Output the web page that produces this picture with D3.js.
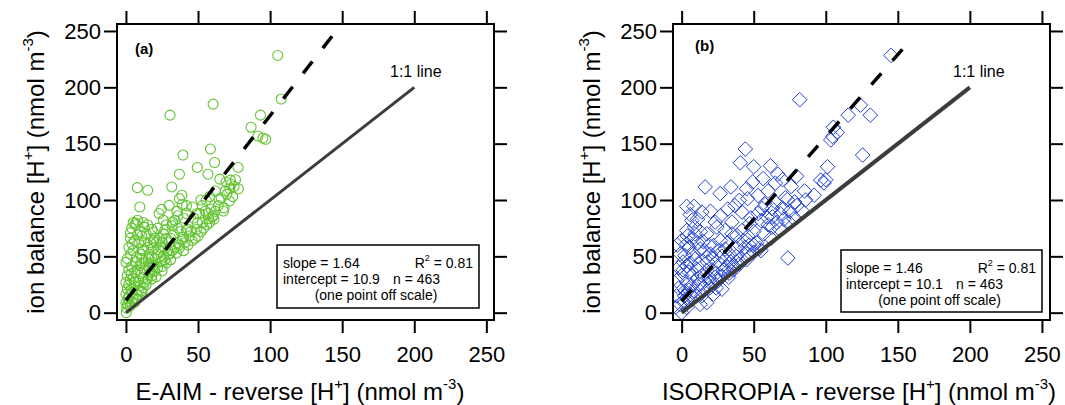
<!DOCTYPE html>
<html>
<head>
<meta charset="utf-8">
<script src="https://d3js.org/d3.v7.min.js"></script>
<style>
  body { margin: 0; background: #fff; }
  svg text { font-family: "Liberation Sans", Arial, sans-serif; fill: #000; }
  .axis .domain { display: none; }
  .axis line { stroke: #000; stroke-width: 2; }
  .axis text { font-size: 22px; }
</style>
</head>
<body>
<svg id="chart" width="1065" height="405"></svg>
<script>
// tick values, shared by both panels
const tickValues = [0, 50, 100, 150, 200, 250];

// panel (a): ion balance vs E-AIM reverse, [x, y] in nmol m-3
const eaimPoints = [
  [105.3,228.3],[107.7,189.6],[60.5,185.1],[30.6,175.3],[93.3,175.3],[86.8,164.6],[91.6,156.8],[96.9,153.9],[95,155],
  [58.6,145.2],[39.5,139.9],[61.5,133.3],[49.5,128.9],[77.8,128.9],[37.1,122.9],[56.9,122.9],[65.1,118.5],[72.5,117.6],
  [69.4,116],[7.9,111],[15.1,108.6],[31.8,111.6],[38.8,104.2],[37.1,101.2],[9.6,93.8],[24.6,91.7],[29.9,95.2],[46.2,93.8],
  [55.7,99.7],[64.6,100.3],[71.8,99.1],[67.7,90.2],[35.4,89.9],[49,87.8],[57.4,83.3],[60.5,86.3],[32.3,80.4],[6.5,79.5],
  [12.7,75.9],[3.1,70.8],[19.1,71.4],[27,73.5],[41.9,72.9],[49.5,79.5],[39.5,67],[19.1,64],[4.3,61],[11.2,56.5],[22.7,55.7],
  [29.9,52.1],[37.1,57.4],[3.1,52],[7.2,49.1],[15.6,47.6],[0,44.6],[9.6,41.7],[17.9,43.2],[25.1,46.1],[3.6,34.2],[10.8,34.8],
  [17.9,29.8],[25.1,37.2],[0,26.8],[6,23.8],[0,16.4],[3.6,20.8],[10.8,19.3],[0,8.9],[0.2,0],
  [0.5,4],[1,7],[2,10],[1.5,13],[3,6],[2.5,15],[4,9],[1,21],[2,25],[4,18],[5,12],[6,9],[7,13],[3,29],[1,33],[2,38],[5,30],
  [6,27],[8,16],[9,20],[4,41],[6,36],[7,45],[1,48],[5,55],[8,38],[9,28],[10,24],[2,58],[6,64],[8,69],[4,75],[7,78],[9,62],
  [10,52],[11,44],[3,66],[5,80],[8,82],[10,72],
  [11,18],[12,22],[13,27],[12,31],[14,25],[15,30],[16,34],[13,38],[11,48],[14,45],[16,40],[17,36],[18,33],[12,55],[15,58],
  [13,63],[16,52],[18,49],[19,42],[20,37],[11,68],[14,70],[17,62],[19,57],[20,48],[12,80],[15,78],[18,74],[20,66],
  [21,32],[22,40],[24,45],[25,41],[26,50],[22,52],[24,58],[27,47],[28,44],[21,62],[23,66],[25,63],[27,57],
  [29,55],[30,52],[22,75],[26,70],[28,66],[30,62],[23,88],[26,82],[28,78],
  [31,47],[32,55],[34,58],[35,53],[36,62],[31,66],[33,70],[37,60],[39,65],[40,55],[32,77],[34,82],
  [36,75],[38,72],[41,62],[43,60],[44,68],[36,86],[40,84],[42,88],[43,74],[45,72],
  [39,96],[42,95],
  [46,64],[48,66],[49,74],[50,68],[52,72],[53,80],[54,75],[56,78],[57,88],[47,84],[51,88],
  [53,95],[55,90],[58,80],[59,92],[60,85],[52,100],[58,103],
  [61,83],[62,90],[64,95],[66,102],[68,93],[70,105],[72,110],[74,103],[75,112],[62,108],
  [69,108],[73,114],[76,118],[78,110]
];

// panel (b): ion balance vs ISORROPIA reverse
const isoPoints = [
  [145.3,228.3],[81.9,189],[124,184.2],[130.9,175.3],[115.6,175.3],[105.3,164.6],[104.7,156.3],[103.5,153.3],[125.6,139.9],
  [44.2,145.2],[40.7,133],[50,129.5],[101.2,129.5],[61.6,130.4],[66.7,122.9],[56.5,119],[49.3,116],[79.8,121.1],[96.5,117.6],
  [98.8,115.2],[16.3,111.6],[34.2,111.6],[85.3,108],[91.9,104.2],[73.3,100.3],[78.4,98.2],[40,99.7],[45.8,101.2],[26.7,105.7],
  [3.5,94.3],[8.6,94.3],[14,89.3],[7,81.8],[23.3,80.4],[34.9,80.4],[41.9,89.3],[55.8,92.3],[62.8,92.3],[68.6,87.8],[83.3,90.8],
  [77.9,83.3],[74.4,80.4],[62.8,75.9],[55.1,81.8],[47.2,78.9],[30.2,72.9],[24.4,75.9],[3.5,72.9],[9.3,69.9],[17.4,69.9],
  [38.4,68.5],[43,64],[30.2,56.5],[22.1,59.5],[3.5,61],[12.8,56.5],[37.2,56.5],[45.3,52.1],[50,53.6],[2.3,50.6],[9.3,47.6],
  [17.4,49.1],[26.7,43.2],[73.7,48.5],[31.4,40.2],[38.4,44.6],[3.5,41.7],[10.5,38.7],[17.4,37.2],[7,32.7],[23.3,31.3],
  [32.6,31.3],[3.5,26.8],[12.3,25.3],[19.8,22.3],[27.9,20.8],[22.1,16.4],[17.4,8.9],[12.8,7.4],[2.3,19.3],[-3.5,14.9],
  [-1.2,7.4],[0,0],[3.5,4.5],[-3.5,28.3],
  [1,10],[2,15],[4,12],[5,20],[6,16],[8,14],[-2,22],[0,33],[1,38],[5,36],[7,24],[9,19],[10,15],[-4,5],[-2,40],[1,45],[6,44],
  [8,52],[11,30],[12,43],[14,33],[15,22],[16,28],[18,45],[19,31],[20,26],[21,38],[5,58],[7,65],[11,62],[13,72],[15,63],
  [16,55],[19,60],[20,52],[22,48],[24,35],[25,28],[26,55],[27,64],[28,50],[29,38],[30,47],[32,62],[33,52],[34,45],[35,70],
  [36,38],[38,50],[40,60],[41,48],[42,73],[44,58],[46,68],[47,60],[48,84],[50,72],[52,62],[53,88],[54,57],[57,70],[58,96],
  [59,85],[60,78],[63,85],[65,98],[66,80],[68,74],[70,93],[71,83],[72,102],[75,90],[80,95],[86,100],[6,87],
  [11,83],[4,68],[9,76],[20,90],[27,86],[32,92],[37,95],[45,110],[53,104],[60,108],[65,115],[70,118],[76,112],
  [100,118],[108,160],[14,15],[24,22],[28,32],[36,40],[40,43],[33,35],
  [45,47],[55,55],[50,60],[62,66],[-1,52],[-3,60],[0,64]
];

// 1:1 line and fitted lines (end points)
const oneToOne = [[0, 0], [200, 200]];
const fitA = [[0, 10.9], [146, 250.3]];
const fitB = [[0, 10.1], [156, 237.9]];

const statsA = ["slope = 1.64", "0.81", "intercept = 10.9", "n = 463", "(one point off scale)"];
const statsB = ["slope = 1.46", "0.81", "intercept = 10.1", "n = 463", "(one point off scale)"];

const svg = d3.select("#chart");
svg.append("rect").attr("width", 1065).attr("height", 405).attr("fill", "#fff");

const frameTop = 24, frameBottom = 320;
const yDomain = [-6.5, 256.2];

const panels = [
  {id: "a", label: "(a)", left: 117, right: 494, xDomain: [-6.2, 255.3], pts: eaimPoints, fit: fitA, stats: statsA,
   marker: "circle", color: "#62c431", xTitle: "E-AIM - reverse [H", titleX: 300, yTitleX: 44, oneWidth: 3,
   box: {x: 277, y: 245, w: 202, h: 63, textX: 283, base: 268, nX: 393, rX: 473}, labelPos: [135, 54], linePos: [390, 77]},
  {id: "b", label: "(b)", left: 673, right: 1050, xDomain: [-6.0, 255.6], pts: isoPoints, fit: fitB, stats: statsB,
   marker: "diamond", color: "#2444d4", xTitle: "ISORROPIA - reverse [H", titleX: 859, yTitleX: 600, oneWidth: 4,
   box: {x: 841, y: 250, w: 201, h: 62, textX: 846, base: 272.5, nX: 956, rX: 1036}, labelPos: [695, 51], linePos: [953, 77]}
];

panels.forEach(p => {
  const x = d3.scaleLinear().domain(p.xDomain).range([p.left, p.right]);
  const y = d3.scaleLinear().domain(yDomain).range([frameBottom, frameTop]);

  svg.append("clipPath").attr("id", "clip-" + p.id)
     .append("rect")
     .attr("x", p.left).attr("y", frameTop)
     .attr("width", p.right - p.left).attr("height", frameBottom - frameTop);

  const plot = svg.append("g").attr("clip-path", `url(#clip-${p.id})`);

  if (p.marker === "circle") {
    plot.selectAll("circle.pt").data(p.pts).join("circle")
        .attr("class", "pt")
        .attr("cx", d => x(d[0]))
        .attr("cy", d => y(d[1]))
        .attr("r", 5)
        .attr("fill", "none")
        .attr("stroke", p.color)
        .attr("stroke-width", 1.1);
  } else {
    const h = 7.3;
    plot.selectAll("path.pt").data(p.pts).join("path")
        .attr("class", "pt")
        .attr("d", `M0,${-h}L${h},0L0,${h}L${-h},0Z`)
        .attr("transform", d => `translate(${x(d[0])},${y(d[1])})`)
        .attr("fill", "none")
        .attr("stroke", p.color)
        .attr("stroke-width", 1);
  }

  const line = d3.line().x(d => x(d[0])).y(d => y(d[1]));

  plot.append("path").datum(oneToOne)
      .attr("d", line)
      .attr("stroke", "#3c3c3c")
      .attr("stroke-width", p.oneWidth)
      .attr("fill", "none");

  plot.append("path").datum(p.fit)
      .attr("d", line)
      .attr("stroke", "#000")
      .attr("stroke-width", 3.5)
      .attr("stroke-dasharray", "15,17")
      .attr("fill", "none");

  // stats box
  const b = p.box;
  svg.append("rect")
     .attr("x", b.x).attr("y", b.y).attr("width", b.w).attr("height", b.h)
     .attr("fill", "#fff").attr("stroke", "#000").attr("stroke-width", 1.5);
  const st = svg.append("g").style("font-size", "14px");
  st.append("text").attr("x", b.textX).attr("y", b.base).text(p.stats[0]);
  const r2 = st.append("text").attr("x", b.rX).attr("y", b.base).attr("text-anchor", "end");
  r2.append("tspan").text("R");
  r2.append("tspan").attr("dy", -7).style("font-size", "9px").text("2");
  r2.append("tspan").attr("dy", 7).text(" = " + p.stats[1]);
  st.append("text").attr("x", b.textX).attr("y", b.base + 16).text(p.stats[2]);
  st.append("text").attr("x", b.nX).attr("y", b.base + 16).text(p.stats[3]);
  st.append("text").attr("x", b.x + b.w / 2 - 2).attr("y", b.base + 32)
    .attr("text-anchor", "middle").text(p.stats[4]);

  // frame
  svg.append("rect")
     .attr("x", p.left).attr("y", frameTop)
     .attr("width", p.right - p.left).attr("height", frameBottom - frameTop)
     .attr("fill", "none").attr("stroke", "#000").attr("stroke-width", 2);

  // axes
  svg.append("g").attr("class", "axis")
     .attr("transform", `translate(${p.left},0)`)
     .call(d3.axisLeft(y).tickValues(tickValues).tickSize(13).tickPadding(3));
  svg.append("g").attr("class", "axis")
     .attr("transform", `translate(${p.right},0)`)
     .call(d3.axisRight(y).tickValues(tickValues).tickSize(13).tickFormat(""));
  svg.append("g").attr("class", "axis")
     .attr("transform", `translate(0,${frameBottom})`)
     .call(d3.axisBottom(x).tickValues(tickValues).tickSize(13).tickPadding(13));
  svg.append("g").attr("class", "axis")
     .attr("transform", `translate(0,${frameTop})`)
     .call(d3.axisTop(x).tickValues(tickValues).tickSize(13).tickFormat(""));

  // panel label and 1:1 text
  svg.append("text").attr("x", p.labelPos[0]).attr("y", p.labelPos[1])
     .style("font-size", "15px").style("font-weight", "bold").text(p.label);
  svg.append("text").attr("x", p.linePos[0]).attr("y", p.linePos[1])
     .style("font-size", "16px").text("1:1 line");

  // axis titles
  const xt = svg.append("text").attr("x", p.titleX).attr("y", 400)
     .attr("text-anchor", "middle").style("font-size", "24px");
  xt.append("tspan").text(p.xTitle);
  xt.append("tspan").attr("dy", -11).style("font-size", "15px").text("+");
  xt.append("tspan").attr("dy", 11).text("] (nmol m");
  xt.append("tspan").attr("dy", -11).style("font-size", "15px").text("-3");
  xt.append("tspan").attr("dy", 11).text(")");

  const yt = svg.append("text")
     .attr("transform", `translate(${p.yTitleX},${(frameTop + frameBottom) / 2}) rotate(-90)`)
     .attr("text-anchor", "middle").style("font-size", "24px");
  yt.append("tspan").text("ion balance [H");
  yt.append("tspan").attr("dy", -11).style("font-size", "15px").text("+");
  yt.append("tspan").attr("dy", 11).text("] (nmol m");
  yt.append("tspan").attr("dy", -11).style("font-size", "15px").text("-3");
  yt.append("tspan").attr("dy", 11).text(")");
});
</script>
</body>
</html>
